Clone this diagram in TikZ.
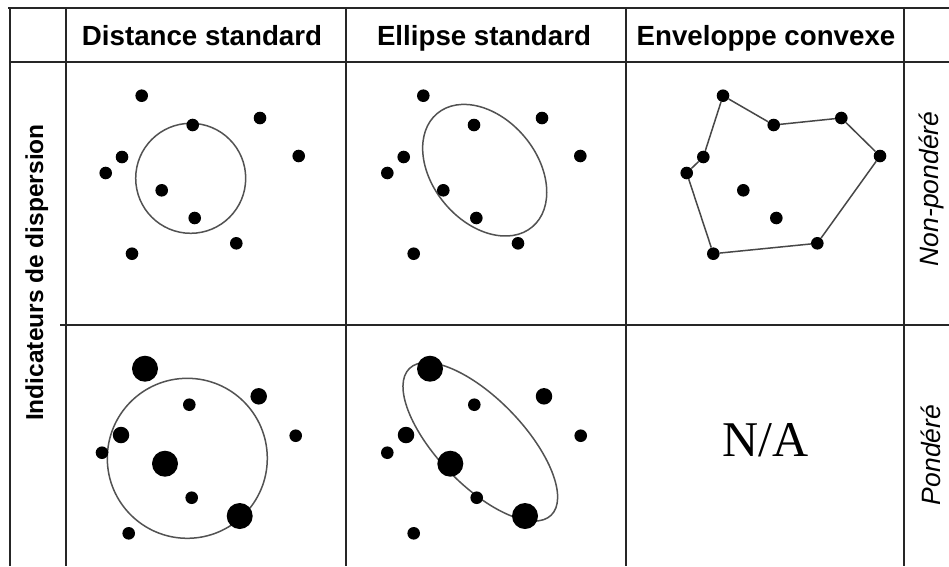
\documentclass[tikz,border=0pt]{standalone}
\usepackage{fontspec}
\setmainfont{Liberation Sans}
\newfontfamily\serifNA{Liberation Serif}
\begin{document}
\begin{tikzpicture}[x=1pt,y=-1pt,
  grid/.style={line width=1.8pt, draw=black!85},
  dot/.style={circle, fill=black, inner sep=0pt, minimum size=12.6pt},
  mdot/.style={dot, minimum size=16.5pt},
  bdot/.style={dot, minimum size=26pt},
  curve/.style={draw=black!68, line width=1.5pt},
  hull/.style={draw=black!72, line width=1.5pt},
  hdr/.style={font=\fontsize{27.7}{30}\selectfont\bfseries, anchor=base, inner sep=0pt},
  side/.style={font=\fontsize{26.5}{30}\selectfont\itshape, rotate=90, anchor=base, inner sep=0pt}]
\useasboundingbox (0,0) rectangle (949,566);
\fill[white] (0,0) rectangle (949,566);
% grid
\draw[grid] (8,8) -- (949,8);
\draw[grid] (10,62) -- (949,62);
\draw[grid] (60,325) -- (949,325);
\draw[grid] (10,8) -- (10,566);
\draw[grid] (66,8) -- (66,566);
\draw[grid] (346,8) -- (346,566);
\draw[grid] (626,8) -- (626,566);
\draw[grid] (904,8) -- (904,566);
% headers
\node[hdr] (h1) at (202,45) {Distance standard};
\node[hdr] (h2) at (484,45) {Ellipse standard};
\node[hdr] (h3) at (766,45) {Enveloppe convexe};
\node[font=\fontsize{24.5}{28}\selectfont\bfseries, rotate=90, anchor=base, inner sep=0pt] (ind) at (43,272.5) {Indicateurs de dispersion};
\node[side] (np) at (938.5,189) {Non-pondéré};
\node[side] (p) at (940,455) {Pondéré};
\node[font=\fontsize{50}{56}\selectfont\serifNA, anchor=base, inner sep=0pt] (na) at (765.5,456.7) {N/A};
% curves
\draw[curve] (190.7,178.3) circle [radius=55];
\draw[curve, rotate around={-50:(484.7,170.2)}] (484.7,170.2) ellipse [x radius=74, y radius=52];
\draw[curve] (187.3,458.3) circle [radius=80];
\draw[curve, rotate around={-46:(480.3,441.8)}] (480.3,441.8) ellipse [x radius=102, y radius=43];
% row 1 col 1
\node[dot] (a1) at (141.7,95.7) {};
\node[dot] (a2) at (192.7,125) {};
\node[dot] (a3) at (260,118) {};
\node[dot] (a4) at (122,157) {};
\node[dot] (a5) at (298.7,156) {};
\node[dot] (a6) at (105.7,173) {};
\node[dot] (a7) at (161.7,190.3) {};
\node[dot] (a8) at (194.7,218) {};
\node[dot] (a9) at (236.3,243.3) {};
\node[dot] (a10) at (132,253.7) {};
% row 1 col 2
\node[dot] (b1) at (423.3,95.7) {};
\node[dot] (b2) at (474,125) {};
\node[dot] (b3) at (542,118) {};
\node[dot] (b4) at (403.7,157) {};
\node[dot] (b5) at (580.3,156) {};
\node[dot] (b6) at (387.3,173) {};
\node[dot] (b7) at (443.3,190.3) {};
\node[dot] (b8) at (476.3,218) {};
\node[dot] (b9) at (518,243.3) {};
\node[dot] (b10) at (413.7,253.7) {};
% row 1 col 3
\node[dot] (c1) at (723,95.7) {};
\node[dot] (c2) at (773.7,125) {};
\node[dot] (c3) at (841.3,118) {};
\node[dot] (c4) at (703.3,157) {};
\node[dot] (c5) at (880,156) {};
\node[dot] (c6) at (686.7,173) {};
\node[dot] (c7) at (743.3,190.3) {};
\node[dot] (c8) at (776.3,218) {};
\node[dot] (c9) at (817.3,243.3) {};
\node[dot] (c10) at (713.3,253.7) {};
\draw[hull] (c1) -- (c2) -- (c3) -- (c5) -- (c9) -- (c10) -- (c6) -- (c4) -- (c1);
% row 2 col 1
\node[bdot] (d1) at (145,368.7) {};
\node[dot] (d2) at (189.3,404.7) {};
\node[mdot] (d3) at (258.7,396.3) {};
\node[mdot] (d4) at (121,435) {};
\node[dot] (d5) at (295.7,435.7) {};
\node[dot] (d6) at (102,452.7) {};
\node[bdot] (d7) at (165,463.7) {};
\node[dot] (d8) at (191.7,497.7) {};
\node[bdot] (d9) at (239.7,516) {};
\node[dot] (d10) at (128.7,533.3) {};
% row 2 col 2
\node[bdot] (e1) at (430,368.7) {};
\node[dot] (e2) at (474.3,404.7) {};
\node[mdot] (e3) at (544,396.3) {};
\node[mdot] (e4) at (406,435) {};
\node[dot] (e5) at (580.7,435.7) {};
\node[dot] (e6) at (387.3,452.7) {};
\node[bdot] (e7) at (450.3,463.7) {};
\node[dot] (e8) at (476.7,497.7) {};
\node[bdot] (e9) at (525,516) {};
\node[dot] (e10) at (413.7,533.3) {};
\end{tikzpicture}
\end{document}
